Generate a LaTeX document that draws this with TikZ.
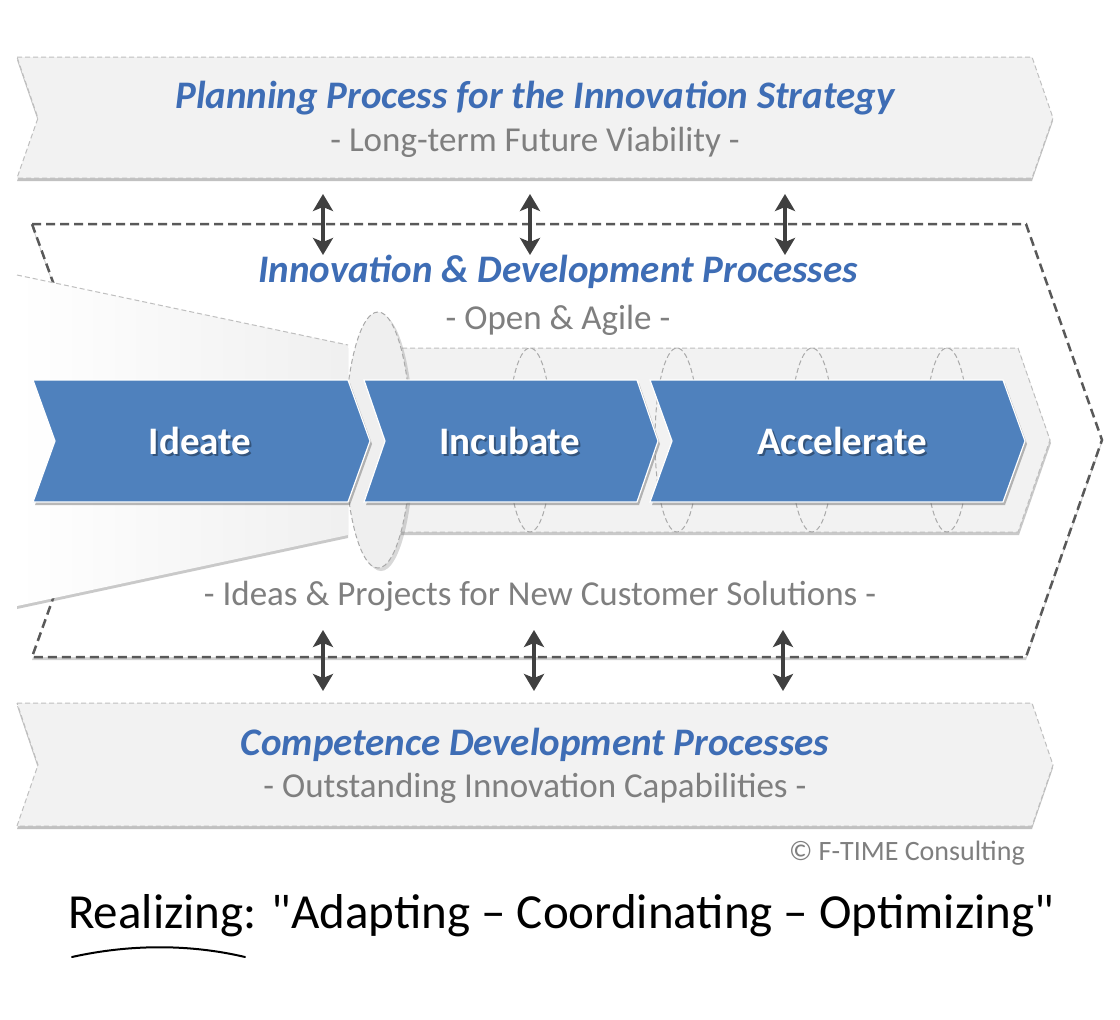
\documentclass[tikz,border=0pt]{standalone}
\usepackage{fontspec}
\setmainfont{Carlito}
\newfontfamily\handfont{Carlito}[Ligatures=TeXOff]
\usetikzlibrary{shadows,arrows.meta,shapes.geometric}
\definecolor{bandfill}{HTML}{F2F2F2}
\definecolor{bandline}{HTML}{BFBFBF}
\definecolor{titleblue}{HTML}{3E6DB5}
\definecolor{subgray}{HTML}{7F7F7F}
\definecolor{chevblue}{HTML}{4F81BD}
\definecolor{darkline}{HTML}{595959}
\definecolor{arrowgray}{HTML}{404040}
\definecolor{ellfill}{HTML}{EFEFEF}
\definecolor{ellline}{HTML}{AAAAAA}
\begin{document}
\begin{tikzpicture}[x=1pt,y=-1pt,
  band/.style={fill=bandfill, draw=bandline, line width=1pt, dash pattern=on 5pt off 3pt,
    drop shadow={opacity=0.4, shadow xshift=0pt, shadow yshift=-3pt, fill=black!60}},
  frame/.style={fill=white, draw=darkline, line width=2.5pt, dash pattern=on 9pt off 5pt,
    drop shadow={opacity=0.3, shadow xshift=0pt, shadow yshift=-3pt, fill=black!60}},
  tube/.style={fill=bandfill, draw=bandline, line width=1pt, dash pattern=on 5pt off 3pt,
    drop shadow={opacity=0.35, shadow xshift=1pt, shadow yshift=-3pt, fill=black!60}},
  ring/.style={draw=ellline, line width=1pt, dash pattern=on 5pt off 3pt},
  bigring/.style={fill=ellfill, draw=ellline, line width=1pt, dash pattern=on 5pt off 3pt,
    drop shadow={opacity=0.25, shadow xshift=3pt, shadow yshift=-3pt, fill=black!60}},
  chev/.style={fill=chevblue, draw=white, line width=1.2pt,
    drop shadow={opacity=0.45, shadow xshift=2pt, shadow yshift=-3pt, fill=black!60}},
  title/.style={font=\fontsize{39}{44}\selectfont\bfseries\itshape, text=titleblue, inner sep=0pt},
  sub/.style={font=\fontsize{35}{40}\selectfont, text=subgray, inner sep=0pt},
  chevtext/.style={font=\fontsize{39}{44}\selectfont\bfseries, text=white, inner sep=0pt},
  chevshadow/.style={font=\fontsize{39}{44}\selectfont\bfseries, text=black, opacity=0.35, inner sep=0pt},
  dbl/.style={{Stealth[length=17pt,width=20pt,inset=4pt]}-{Stealth[length=17pt,width=20pt,inset=4pt]}, line width=4pt, draw=arrowgray},
]
\useasboundingbox[fill=white] (0,0) rectangle (1120,1020);

% top band
\path[band] (17,57) -- (1032,57) -- (1053,118) -- (1032,178) -- (17,178) -- (38,118) -- cycle;
% bottom band
\path[band] (17,703) -- (1032,703) -- (1053,765) -- (1032,826) -- (17,826) -- (38,765) -- cycle;
% middle dashed frame
\path[frame] (32,224) -- (1026,224) -- (1102,440) -- (1026,657) -- (32,657) -- (110,440) -- cycle;

% funnel
\path[left color=white, right color=black!6, drop shadow={opacity=0.35, shadow xshift=0pt, shadow yshift=-3pt, fill=black!60}]
  (17,275) -- (348,345) -- (348,535) -- (17,606) -- cycle;
\draw[draw=bandline, line width=1pt, dash pattern=on 5pt off 3pt] (17,275) -- (348,345);

% tube
\path[tube] (378,348) -- (1018,348) -- (1050,440) -- (1018,532) -- (378,532) -- cycle;
\foreach \cx in {530,677,812,947} {
  \draw[ring] (\cx,440) ellipse [x radius=22, y radius=92];
}
% big ellipse
\path[bigring] (378,440) ellipse [x radius=33, y radius=128];

% blue chevrons
\path[chev] (33,380) -- (348,380) -- (370,441) -- (348,502) -- (33,502) -- (55,441) -- cycle;
\path[chev] (364,380) -- (637,380) -- (658,441) -- (637,502) -- (364,502) -- (385,441) -- cycle;
\path[chev] (650,380) -- (1003,380) -- (1025,441) -- (1003,502) -- (650,502) -- (672,441) -- cycle;

\node[chevshadow] (ideateS) at (202,443) {Ideate};
\node[chevtext] (ideate) at (200,441) {Ideate};
\node[chevshadow] (incubateS) at (512,443) {Incubate};
\node[chevtext] (incubate) at (510,441) {Incubate};
\node[chevshadow] (accelS) at (844,443) {Accelerate};
\node[chevtext] (accel) at (842,441) {Accelerate};

% texts
\node[title] (plantitle) at (535,98) {Planning Process for the Innovation Strategy};
\node[sub] (plansub) at (535,142) {- Long-term Future Viability -};
\node[title] (innotitle) at (558,272) {Innovation \& Development Processes};
\node[sub] (innosub) at (558,320) {- Open \& Agile -};
\node[sub] (ideas) at (540,596) {- Ideas \& Projects for New Customer Solutions -};
\node[title] (comptitle) at (535,745) {Competence Development Processes};
\node[sub] (compsub) at (535,788) {- Outstanding Innovation Capabilities -};
\node[font=\fontsize{28}{32}\selectfont, text=subgray, anchor=east, inner sep=0pt] (copy) at (1025,853) {© F-TIME Consulting};
\node[font=\handfont\fontsize{49}{54}\selectfont, text=black, inner sep=0pt, anchor=base west] (hand) at (68,928) {Realizing: "Adapting – Coordinating – Optimizing"};
\draw[line width=2pt, line cap=round] (72,957) .. controls (130,944) and (190,944) .. (245,957);

% arrows
\coordinate (t1a) at (323,194); \coordinate (t1b) at (323,255);
\coordinate (t2a) at (530,194); \coordinate (t2b) at (530,255);
\coordinate (t3a) at (785,194); \coordinate (t3b) at (785,255);
\coordinate (b1a) at (323,630); \coordinate (b1b) at (323,691);
\coordinate (b2a) at (534,630); \coordinate (b2b) at (534,691);
\coordinate (b3a) at (783,630); \coordinate (b3b) at (783,691);
\foreach \p in {t1,t2,t3,b1,b2,b3} {
  \draw[dbl] (\p a) -- (\p b);
}
\end{tikzpicture}
\end{document}
